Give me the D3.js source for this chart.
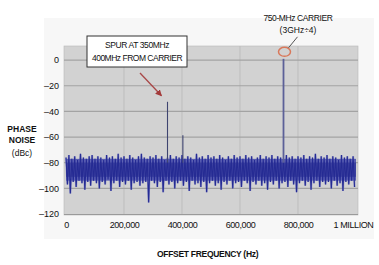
<!DOCTYPE html>
<meta charset="utf-8">
<script src="https://d3js.org/d3.v7.min.js"></script>
<style>
	body{
		margin:0;
		background:#fff;
		font-family:"Liberation Sans", Arial, sans-serif;
	}
	svg text{ fill:#111; }
</style>
<div id="chart"></div>
<script>
// y axis ticks (dBc) and x axis ticks (Hz)
var yTicks = [0,-20,-40,-60,-80,-100,-120]
var yTickLabels = ["0","\u201320","\u201340","\u201360","\u201380","\u2013100","\u2013120"]
var xTicks = [0,200000,400000,600000,800000,1000000]
var xTickLabels = ["0","200,000","400,000","600,000","800,000","1 MILLION"]

// noise trace, one value every 5 kHz from 0 Hz (alternating peaks / troughs)
var noiseStepHz = 5000
var noiseDb = [
	-76,-97,-74,-104,-77,-95,-75,-99,-78,-94,-73,-96,-76,-101,-77,-95,-75,-98,-74,-94,
	-77,-96,-75,-100,-76,-95,-78,-97,-74,-93,-76,-102,-75,-96,-77,-94,-73,-99,-76,-95,
	-75,-97,-77,-94,-74,-101,-76,-96,-78,-95,-75,-98,-73,-96,-76,-95,-77,-111,-75,-94,
	-76,-96,-74,-99,-77,-95,-75,-103,-78,-94,-76,-97,-74,-95,-77,-100,-75,-96,-76,-94,
	-74,-98,-77,-95,-75,-102,-76,-94,-78,-97,-73,-96,-76,-99,-75,-95,-77,-103,-74,-96,
	-76,-94,-75,-98,-77,-96,-74,-101,-76,-95,-78,-97,-75,-94,-77,-100,-74,-96,-76,-95,
	-75,-99,-77,-94,-74,-96,-76,-102,-75,-95,-78,-97,-76,-94,-74,-98,-77,-96,-75,-101,
	-76,-95,-74,-97,-77,-94,-75,-100,-76,-96,-78,-95,-74,-99,-76,-94,-75,-97,-77,-103,
	-75,-96,-76,-94,-74,-98,-77,-95,-75,-101,-76,-96,-73,-94,-77,-99,-75,-95,-76,-97,
	-74,-95,-77,-100,-75,-94,-76,-98,-78,-96,-74,-102,-76,-95,-75,-97,-77,-94,-75,-99
]

// discrete tones
var spurHz = [350000, 403000]
var spurDb = [-32.5, -58.5]
var carrierHz = 750000
var carrierDb = 1

var w = 379
var h = 265
var svg = d3.select("#chart").append("svg").attr("width",w).attr("height",h)

// faint panel behind the chart
svg.append("rect").attr("x",44).attr("y",18).attr("width",330).attr("height",221)
	.attr("fill","#f7f7f7")

var xScale = d3.scaleLinear().domain([0,1000000]).range([66,356])
var yScale = d3.scaleLinear().domain([-120,11]).range([214,46])

var plotL = 64, plotR = 358
svg.append("rect").attr("x",plotL).attr("y",yScale(11)).attr("width",plotR-plotL)
	.attr("height",yScale(-120)-yScale(11)+1)
	.attr("fill","#d2d2d2").attr("stroke","#b8b8b8").attr("stroke-width",0.6)

// gridlines
svg.append("g").selectAll("line").data(xTicks.slice(1,5)).join("line")
	.attr("x1",function(d){return xScale(d)}).attr("x2",function(d){return xScale(d)})
	.attr("y1",yScale(11)).attr("y2",yScale(-120))
	.attr("stroke","#bdbdbd").attr("stroke-width",1)
svg.append("g").selectAll("line").data(yTicks.slice(0,6)).join("line")
	.attr("x1",plotL).attr("x2",plotR)
	.attr("y1",function(d){return yScale(d)}).attr("y2",function(d){return yScale(d)})
	.attr("stroke","#a3a3a3").attr("stroke-width",1.2)
svg.append("line").attr("x1",plotL).attr("x2",plotR)
	.attr("y1",yScale(-120)+0.5).attr("y2",yScale(-120)+0.5)
	.attr("stroke","#9a9a9a").attr("stroke-width",1.2)

// y axis
var yAxis = d3.axisLeft(yScale).tickValues(yTicks).tickSize(0).tickPadding(5)
	.tickFormat(function(d,i){return yTickLabels[i]})
var gy = svg.append("g").attr("transform","translate("+(plotL)+",0)").call(yAxis)
gy.select(".domain").remove()
gy.selectAll("text").style("font-size","9px").style("font-family","'Liberation Sans', Arial, sans-serif").attr("fill","#111")

// x axis
var xAxis = d3.axisBottom(xScale).tickValues(xTicks).tickSize(0).tickPadding(8)
	.tickFormat(function(d,i){return xTickLabels[i]})
var gx = svg.append("g").attr("transform","translate(0,"+yScale(-120)+")").call(xAxis)
gx.select(".domain").remove()
gx.selectAll("text").style("font-size","9px").style("letter-spacing","-0.4px")
	.style("font-family","'Liberation Sans', Arial, sans-serif").attr("fill","#111")
gx.selectAll(".tick").filter(function(d){return d==1000000}).select("text").attr("dx","-3")

// noise trace
var line = d3.line()
	.x(function(d,i){return xScale(i*noiseStepHz)})
	.y(function(d){return yScale(d)})
// dense core of the band
svg.append("rect").attr("x",xScale(0)).attr("y",yScale(-77))
	.attr("width",xScale(1000000)-xScale(0)).attr("height",yScale(-94)-yScale(-77))
	.attr("fill","#3a3fa6").attr("opacity",0.8)
svg.append("path").datum(noiseDb).attr("d",line)
	.attr("fill","none").attr("stroke","#6a6fc0").attr("stroke-width",2).attr("opacity",0.6)
svg.append("path").datum(noiseDb).attr("d",line)
	.attr("fill","none").attr("stroke","#252b94").attr("stroke-width",1.1)
svg.append("rect").attr("x",xScale(0)).attr("y",yScale(-80))
	.attr("width",xScale(1000000)-xScale(0)).attr("height",yScale(-91)-yScale(-80))
	.attr("fill","#262b92").attr("opacity",0.6)

// spurs
svg.append("g").selectAll("line").data(spurHz).join("line")
	.attr("x1",function(d){return xScale(d)}).attr("x2",function(d){return xScale(d)})
	.attr("y1",yScale(-80)).attr("y2",function(d,i){return yScale(spurDb[i])})
	.attr("stroke","#3e4470").attr("stroke-width",1.1)

// carrier
svg.append("line").attr("x1",xScale(carrierHz)).attr("x2",xScale(carrierHz))
	.attr("y1",yScale(-80)).attr("y2",yScale(carrierDb))
	.attr("stroke","#5c6098").attr("stroke-width",1.8)
svg.append("ellipse").attr("cx",xScale(carrierHz)+1).attr("cy",yScale(carrierDb)-7)
	.attr("rx",6).attr("ry",4.5).attr("fill","none")
	.attr("stroke","#d9785a").attr("stroke-width",1.5)
svg.append("line").attr("x1",xScale(carrierHz)+5).attr("y1",yScale(carrierDb)-11)
	.attr("x2",xScale(carrierHz)+14).attr("y2",yScale(carrierDb)-22)
	.attr("stroke","#555").attr("stroke-width",1)

// annotations
var red = "#c4323d"
svg.append("rect").attr("x",87).attr("y",36).attr("width",100).attr("height",31)
	.attr("fill","#fff").attr("stroke","#333").attr("stroke-width",1)
svg.append("text").text("SPUR AT 350MHz").attr("x",137).attr("y",48)
	.attr("text-anchor","middle").style("font-size","8.5px").style("letter-spacing","-0.4px").attr("fill",red)
svg.append("text").text("400MHz FROM CARRIER").attr("x",137).attr("y",61)
	.attr("text-anchor","middle").style("font-size","8.5px").style("letter-spacing","-0.5px").attr("fill",red)

svg.append("defs").append("marker").attr("id","arr").attr("viewBox","0 0 10 10")
	.attr("refX",9).attr("refY",5).attr("markerWidth",5).attr("markerHeight",5).attr("orient","auto")
	.append("path").attr("d","M0,0L10,5L0,10z").attr("fill","#a33a3a")
svg.append("line").attr("x1",140).attr("y1",73).attr("x2",xScale(spurHz[0])-6).attr("y2",yScale(spurDb[0])-6)
	.attr("stroke","#a84848").attr("stroke-width",1.3).attr("marker-end","url(#arr)")

svg.append("text").text("750-MHz CARRIER").attr("x",298).attr("y",21)
	.attr("text-anchor","middle").style("font-size","8.5px").style("letter-spacing","-0.4px").attr("fill",red)
svg.append("text").text("(3GHz\u00f74)").attr("x",298).attr("y",33)
	.attr("text-anchor","middle").style("font-size","8.5px").attr("fill",red)

// axis titles
svg.append("text").text("PHASE").attr("x",22).attr("y",132).attr("text-anchor","middle")
	.style("font-size","8.5px").style("font-weight","bold")
svg.append("text").text("NOISE").attr("x",22).attr("y",143).attr("text-anchor","middle")
	.style("font-size","8.5px").style("font-weight","bold")
svg.append("text").text("(dBc)").attr("x",22).attr("y",156).attr("text-anchor","middle")
	.style("font-size","8.5px")
svg.append("text").text("OFFSET FREQUENCY (Hz)").attr("x",157).attr("y",257)
	.style("font-size","8.5px").style("font-weight","bold").style("letter-spacing","-0.3px")
</script>
